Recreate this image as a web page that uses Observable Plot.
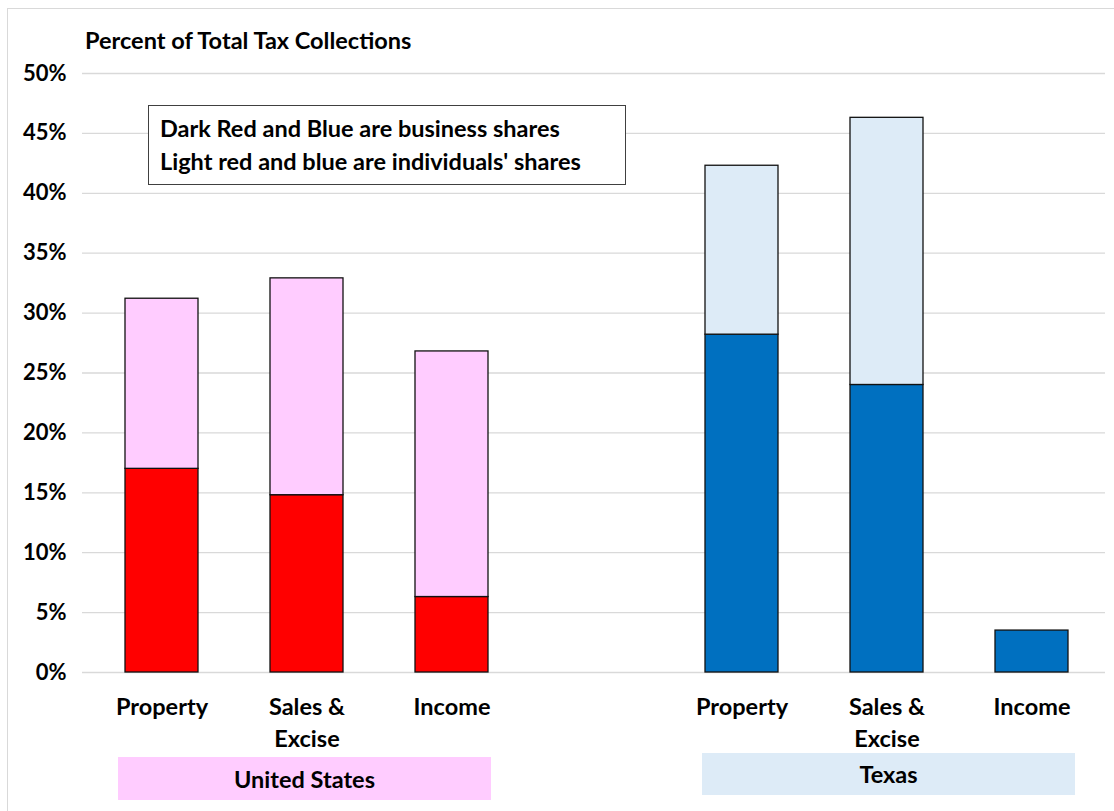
<!DOCTYPE html>
<html>
<head>
<meta charset="utf-8">
<script src="https://cdn.jsdelivr.net/npm/d3@7"></script>
<script src="https://cdn.jsdelivr.net/npm/@observablehq/plot@0.6"></script>
<style>
  body { margin: 0; background: #fff; font-family: Lato, "Open Sans", sans-serif; }
  #wrap { position: relative; width: 1114px; height: 811px; overflow: hidden; }
  #frame { position: absolute; left: 7px; top: 8px; width: 1120px; height: 820px; border: 1px solid #d9d9d9; box-sizing: border-box; }
  #chart { position: absolute; left: 0; top: 0; }
  .title { position: absolute; left: 85px; top: 25px; font-weight: 700; font-size: 23.5px; line-height: 30px; color: #000; white-space: nowrap; }
  .note { position: absolute; left: 148px; top: 105px; width: 478px; height: 80px; box-sizing: border-box; border: 1.5px solid #404040; background: #fff; padding: 6px 0 0 11px; font-weight: 700; font-size: 23.5px; line-height: 33px; white-space: nowrap; }
  .group { position: absolute; font-weight: 700; font-size: 23.5px; display: flex; align-items: center; justify-content: center; }
</style>
</head>
<body>
<div id="wrap">
  <div id="frame"></div>
  <div id="chart"></div>
  <div class="title">Percent of Total Tax Collections</div>
  <div class="note">Dark Red and Blue are business shares<br>Light red and blue are individuals' shares</div>
  <div class="group" id="g0" style="left:118px; top:757px; width:373px; height:43px; background:#FFCCFF;"></div>
  <div class="group" id="g1" style="left:702px; top:753px; width:373px; height:42px; background:#DDEBF7;"></div>
</div>
<script>
// Data
const regions = ["United States", "Texas"];
const categories = ["Property", "Sales &\nExcise", "Income"];
const businessShare = [17.0, 14.8, 6.3, 28.2, 24.0, 3.5];      // % of total tax collections
const individualShare = [14.2, 18.1, 20.5, 14.1, 22.3, 0.0];
const businessColors = ["#FF0000", "#0070C0"];
const individualColors = ["#FFCCFF", "#DDEBF7"];
const yTicks = [0, 5, 10, 15, 20, 25, 30, 35, 40, 45, 50];

// Build table
const keys = [];
const labelOf = {};
regions.forEach((r, ri) => {
  categories.forEach((c, ci) => {
    const k = r + "|" + ci;
    keys.push(k);
    labelOf[k] = c;
  });
  if (ri === 0) { keys.push("gap"); labelOf["gap"] = ""; }
});
const rows = [];
regions.forEach((r, ri) => {
  categories.forEach((c, ci) => {
    const i = ri * categories.length + ci;
    rows.push({key: r + "|" + ci, series: "business", value: businessShare[i], color: businessColors[ri]});
  });
});
regions.forEach((r, ri) => {
  categories.forEach((c, ci) => {
    const i = ri * categories.length + ci;
    if (individualShare[i] > 0)
      rows.push({key: r + "|" + ci, series: "individual", value: individualShare[i], color: individualColors[ri]});
  });
});

document.getElementById("g0").textContent = regions[0];
document.getElementById("g1").textContent = regions[1];

const chart = Plot.plot({
  width: 1114,
  height: 811,
  marginTop: 73,
  marginBottom: 139,
  marginLeft: 87,
  marginRight: 8,
  style: {fontFamily: "Lato, 'Open Sans', sans-serif", background: "transparent"},
  x: {domain: keys, paddingInner: 0.5, paddingOuter: 0.25, label: null},
  y: {domain: [0, 50], label: null},
  marks: [
    Plot.ruleY(yTicks, {stroke: "#d9d9d9", strokeWidth: 1.3, insetLeft: -5, insetRight: 1}),
    Plot.barY(rows, {x: "key", y: "value", fill: "color", z: "series", stroke: "#111", strokeWidth: 1.3}),
    Plot.axisY(yTicks, {tickSize: 0, tickPadding: 21, fontSize: 22, fontWeight: 700, fill: "#000", tickFormat: d => d + "%", label: null}),
    Plot.axisX({tickSize: 0, tickPadding: 20, fontSize: 23.5, fontWeight: 700, fill: "#000", lineHeight: 1.36, tickFormat: k => labelOf[k], label: null})
  ]
});
document.getElementById("chart").appendChild(chart);
</script>
</body>
</html>
